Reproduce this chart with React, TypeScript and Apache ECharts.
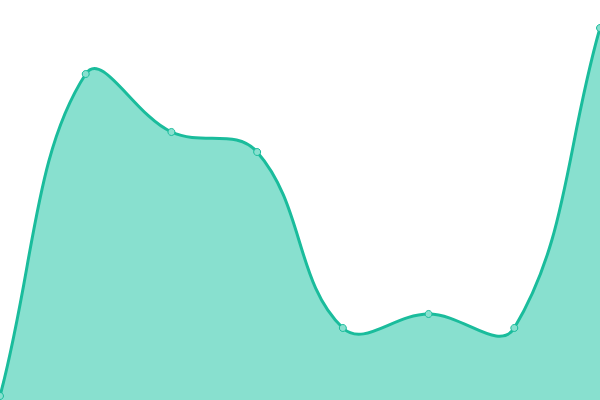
import React, { useEffect, useRef } from 'react';
import * as echarts from 'echarts';

const categories = ['1', '2', '3', '4', '5', '6', '7', '8'];
const values = [1, 81.5, 67, 62, 18, 21.5, 18, 93];

const LINE_COLOR = '#1abc9c';
const AREA_COLOR = '#88e0cf';
const TENSION = 0.4;

// spline control points, distance-weighted like a cardinal curve
function splinePath(pts: number[][], w: number, h: number) {
  const n = pts.length;
  const cps = pts.map((cur, i) => {
    const prev = pts[i - 1] || cur;
    const next = pts[i + 1] || cur;
    const d01 = Math.hypot(cur[0] - prev[0], cur[1] - prev[1]);
    const d12 = Math.hypot(next[0] - cur[0], next[1] - cur[1]);
    let s01 = d01 / (d01 + d12);
    let s12 = d12 / (d01 + d12);
    if (!isFinite(s01)) s01 = 0;
    if (!isFinite(s12)) s12 = 0;
    const fa = TENSION * s01;
    const fb = TENSION * s12;
    const clampX = (x: number) => Math.max(0, Math.min(w, x));
    const clampY = (y: number) => Math.max(0, Math.min(h, y));
    return {
      prev: [clampX(cur[0] - fa * (next[0] - prev[0])), clampY(cur[1] - fa * (next[1] - prev[1]))],
      next: [clampX(cur[0] + fb * (next[0] - prev[0])), clampY(cur[1] + fb * (next[1] - prev[1]))],
    };
  });
  let d = `M${pts[0][0]},${pts[0][1]}`;
  for (let i = 1; i < n; i++) {
    const a = cps[i - 1].next;
    const b = cps[i].prev;
    d += ` C${a[0]},${a[1]} ${b[0]},${b[1]} ${pts[i][0]},${pts[i][1]}`;
  }
  return d;
}

export default function App() {
  const chartRef = useRef<HTMLDivElement>(null);

  useEffect(() => {
    if (!chartRef.current) return;
    document.body.style.margin = '0';

    const chart = echarts.init(chartRef.current, undefined, { renderer: 'svg' });

    const option: echarts.EChartsOption = {
      animation: false,
      backgroundColor: '#ffffff',
      grid: { left: 0, right: 0, top: 0, bottom: 0 },
      xAxis: {
        type: 'category',
        data: categories,
        boundaryGap: false,
        show: false,
      },
      yAxis: {
        type: 'value',
        min: 0,
        max: 100,
        show: false,
      },
      series: [
        {
          type: 'custom',
          data: values.map((v, i) => [i, v]),
          silent: true,
          z: 1,
          renderItem: (params: any, api: any) => {
            if (params.dataIndex !== 0) return null;
            const pts = values.map((v, i) => api.coord([i, v]));
            const base = api.coord([0, 0])[1];
            const w = api.getWidth();
            const h = api.getHeight();
            const line = splinePath(pts, w, h);
            const last = pts[pts.length - 1];
            const area = `${line} L${last[0]},${base} L${pts[0][0]},${base} Z`;
            return {
              type: 'group',
              children: [
                {
                  type: 'path',
                  shape: { pathData: area },
                  style: { fill: AREA_COLOR, stroke: null },
                },
                {
                  type: 'path',
                  shape: { pathData: line },
                  style: { fill: null, stroke: LINE_COLOR, lineWidth: 3 },
                },
              ],
            };
          },
        },
        {
          type: 'line',
          data: values,
          z: 3,
          symbol: 'circle',
          symbolSize: 7,
          lineStyle: { opacity: 0 },
          itemStyle: { color: AREA_COLOR, borderColor: LINE_COLOR, borderWidth: 1 },
        },
      ],
    };

    chart.setOption(option);

    return () => {
      chart.dispose();
    };
  }, []);

  return <div ref={chartRef} style={{ width: 600, height: 400 }} />;
}
